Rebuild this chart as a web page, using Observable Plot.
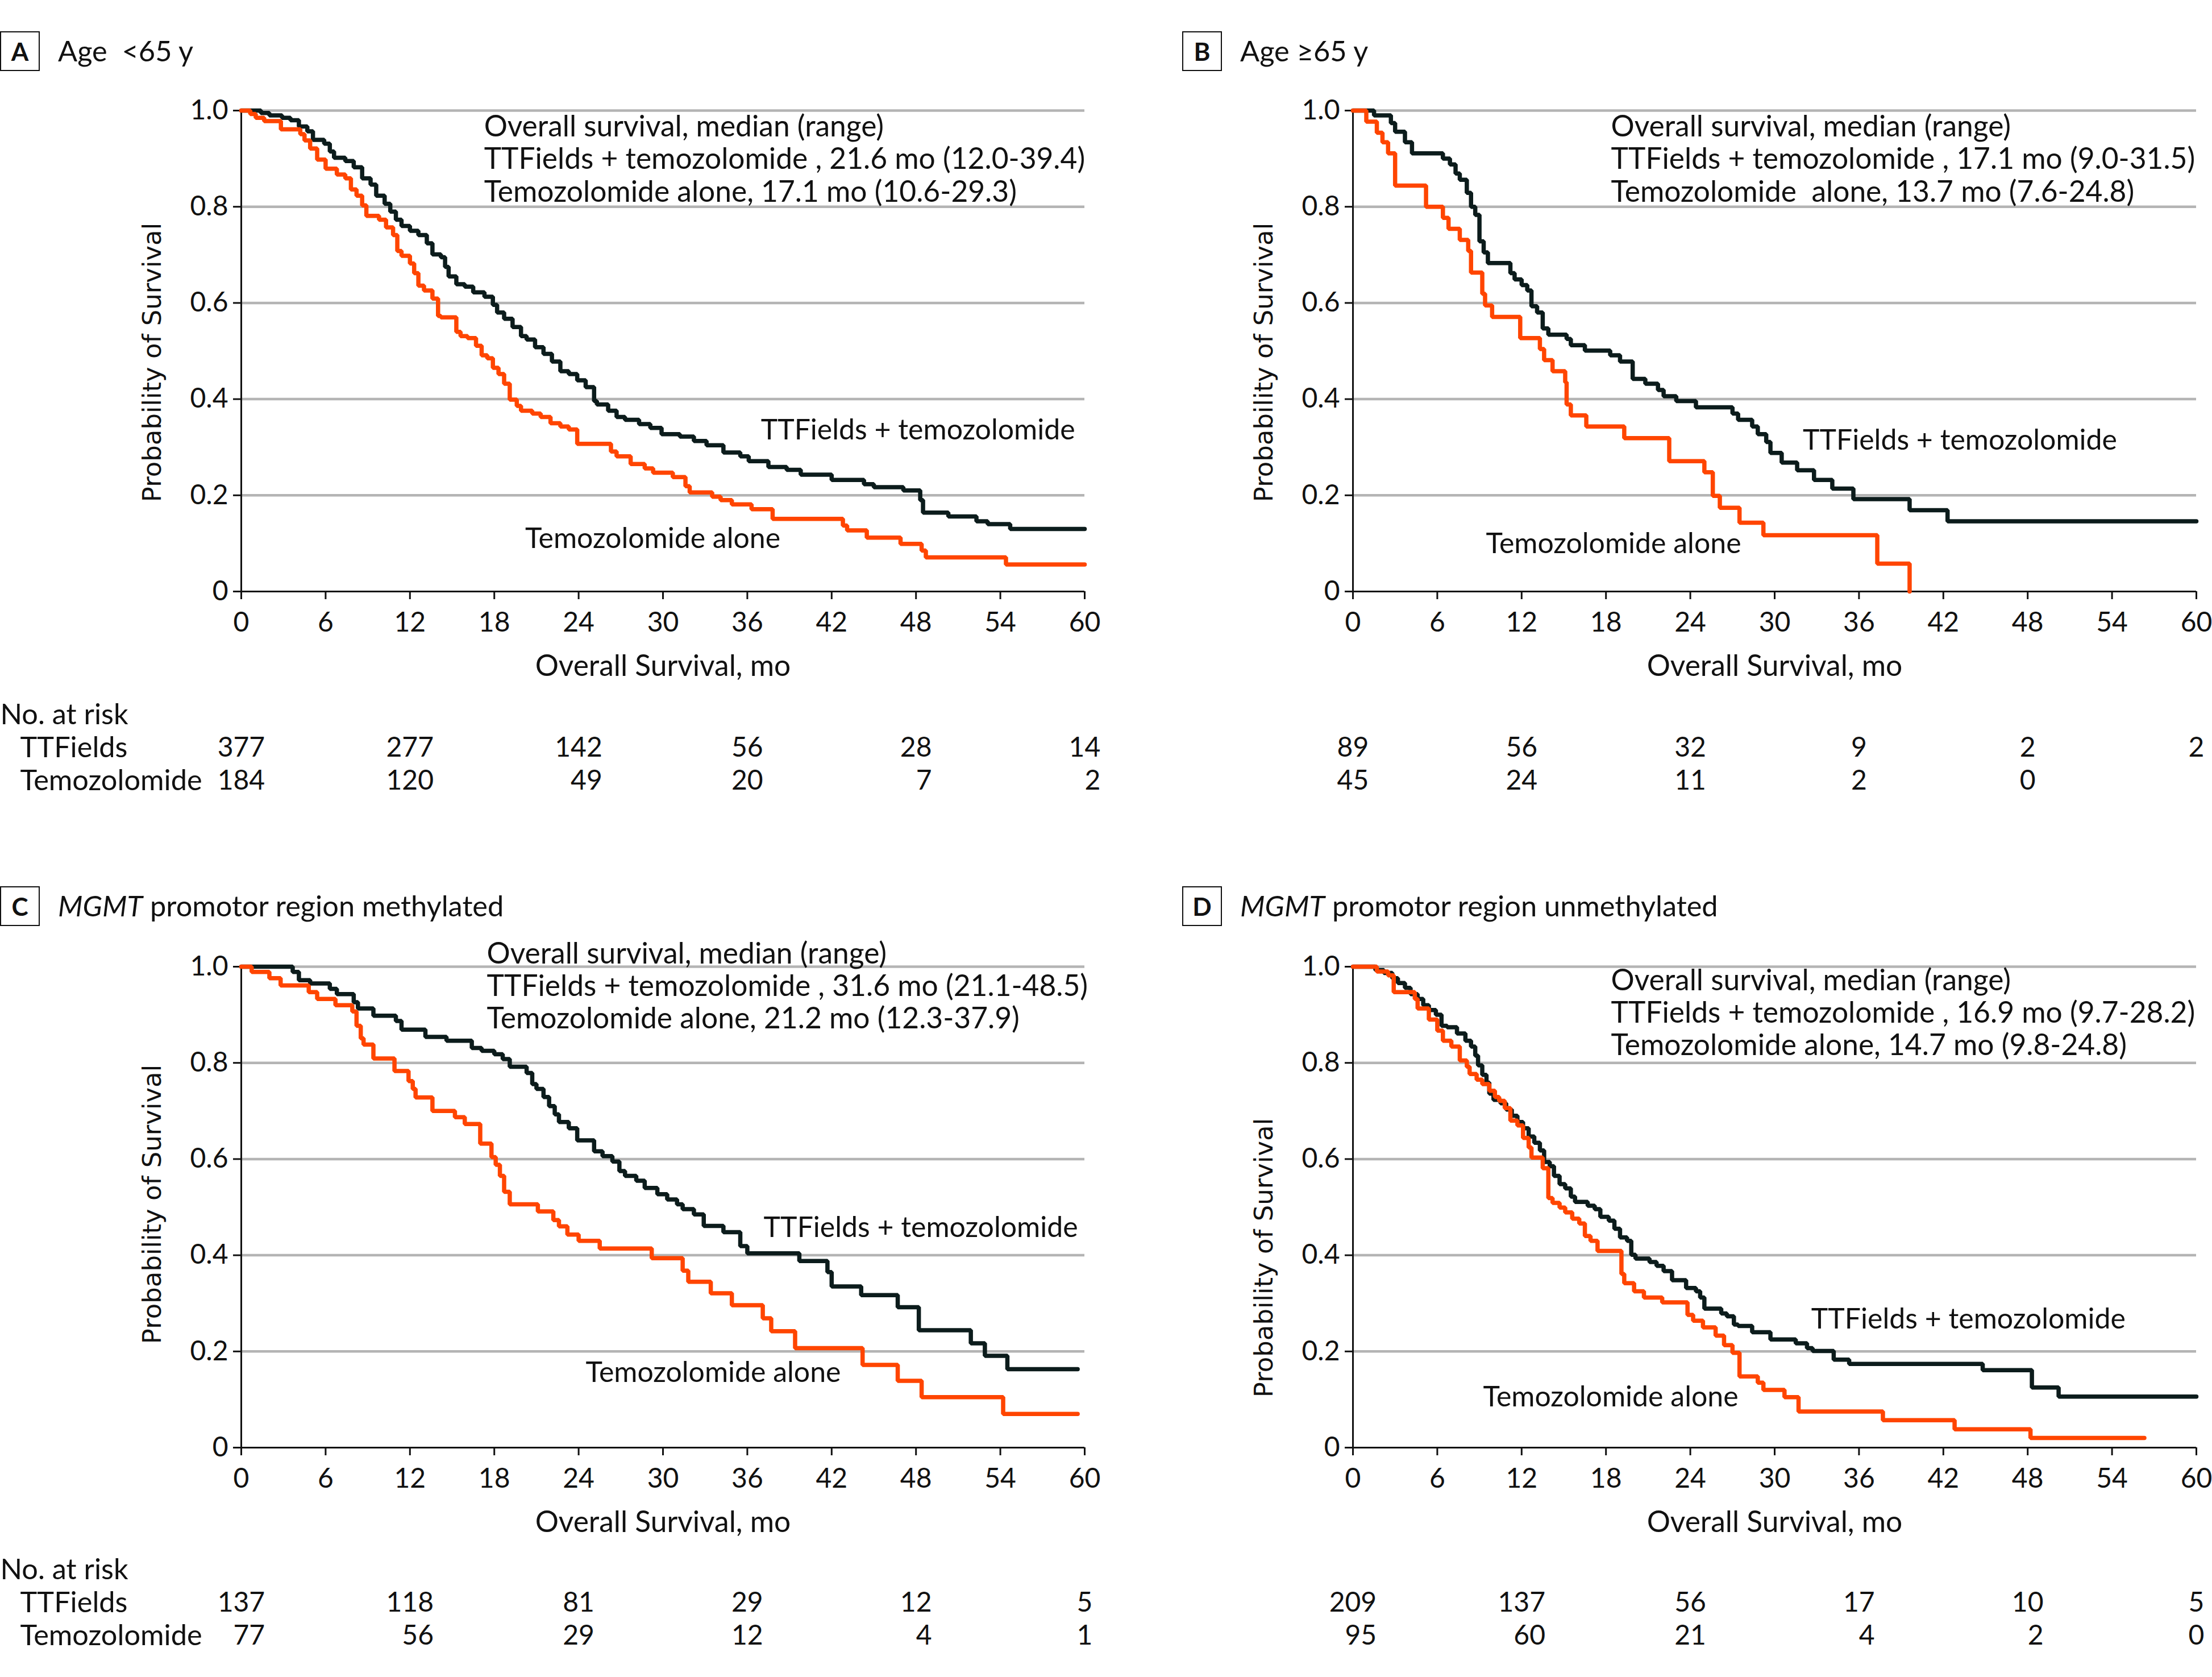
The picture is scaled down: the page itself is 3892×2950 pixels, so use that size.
<!DOCTYPE html>
<html><head><meta charset="utf-8">
<script src="https://cdn.jsdelivr.net/npm/d3@7"></script>
<script src="https://cdn.jsdelivr.net/npm/@observablehq/plot@0.6"></script>
<style>
html,body{margin:0;padding:0;background:#fff;}
#root{position:relative;width:3892px;height:2950px;background:#fff;font-family:Lato,"Open Sans",sans-serif;color:#111;overflow:hidden;}
.box{position:absolute;width:70px;height:70px;border:2.5px solid #111;box-sizing:border-box;display:flex;align-items:center;justify-content:center;font-weight:700;font-size:44px;}
.title{position:absolute;font-size:50.5px;white-space:pre;line-height:1;transform:translateY(-50%);}
svg{overflow:visible;}
</style></head><body><div id="root"></div>
<script>
// ---------- DATA ----------
const xTicks = [0, 6, 12, 18, 24, 30, 36, 42, 48, 54, 60];
const yTicks = [0, 0.2, 0.4, 0.6, 0.8, 1.0];
const riskTimes = [0, 12, 24, 36, 48, 60];
const groups = ["TTFields + temozolomide", "Temozolomide alone"];

// Panel A: Age <65 y
const aTTFt = [0,1.4,2.0,2.9,3.5,4.1,4.7,5.1,5.9,6.3,6.6,7.4,8.0,8.6,9.2,9.6,10.2,10.6,11.0,11.4,12.0,12.6,13.2,13.6,14.2,14.5,14.75,15.3,15.9,16.5,17.3,17.9,18.2,18.7,19.3,19.9,20.3,20.9,21.5,22.1,22.7,23.3,23.9,24.5,25.1,25.3,26.1,26.7,27.3,28.3,29.1,29.9,31.2,32.2,33.1,34.3,35.5,36.1,37.5,38.8,39.8,42.0,44.3,45.0,47.1,48.3,48.5,50.3,52.3,53.1,54.7,60];
const aTTFs = [1,.995,.990,.985,.980,.967,.957,.939,.931,.915,.902,.895,.882,.859,.846,.823,.806,.790,.773,.760,.750,.741,.724,.701,.695,.675,.655,.639,.634,.622,.613,.596,.580,.567,.550,.531,.524,.508,.494,.478,.458,.452,.439,.425,.396,.389,.376,.363,.357,.348,.340,.327,.322,.313,.304,.289,.281,.271,.259,.253,.243,.232,.223,.217,.210,.190,.164,.156,.146,.140,.130,.130];
const aTMZt = [0,0.64,1.03,1.63,2.82,4.2,4.5,4.9,5.4,6.0,6.8,7.4,7.8,8.2,8.6,8.9,9.8,10.3,10.8,11.1,11.4,12.0,12.3,12.6,13.0,13.6,14.0,14.2,15.3,15.6,16.1,16.7,17.1,17.5,17.9,18.3,18.7,19.1,19.6,19.9,20.7,21.3,22.0,22.7,23.3,23.9,26.3,26.7,27.7,28.7,29.3,30.7,31.6,31.9,33.5,34.1,34.9,36.3,37.8,42.8,43.1,44.5,46.9,48.4,48.7,54.4,60];
const aTMZs = [1,.993,.985,.978,.961,.951,.938,.921,.898,.879,.867,.859,.836,.823,.803,.781,.773,.757,.741,.708,.698,.682,.662,.636,.626,.609,.573,.570,.540,.531,.527,.511,.491,.485,.465,.452,.432,.399,.386,.376,.370,.363,.350,.343,.337,.307,.291,.281,.265,.256,.247,.238,.219,.206,.197,.190,.181,.171,.151,.137,.127,.112,.099,.085,.071,.056,.056];
const aRiskTTF = [377, 277, 142, 56, 28, 14];
const aRiskTMZ = [184, 120, 49, 20, 7, 2];

// Panel B: Age >=65 y
const bTTFt = [0,1.5,2.7,3.0,3.7,4.2,6.4,6.9,7.3,7.6,8.1,8.4,8.7,9.0,9.3,9.6,11.2,11.5,12.0,12.4,12.7,13.1,13.5,13.9,15.2,15.5,16.5,18.3,19.0,19.9,20.8,21.7,22.1,23.0,24.4,27.0,27.4,28.4,28.8,29.4,29.7,30.5,31.6,32.8,34.1,35.6,39.6,42.3,60];
const bTTFs = [1,.990,.974,.956,.934,.911,.900,.888,.869,.856,.829,.800,.783,.728,.705,.683,.662,.649,.637,.626,.593,.580,.547,.534,.525,.512,.501,.491,.478,.442,.432,.419,.406,.396,.383,.370,.357,.343,.327,.311,.288,.268,.252,.232,.214,.192,.169,.146,.146];
const bTMZt = [0,0.95,1.7,2.1,2.5,3.0,5.2,6.4,6.8,7.6,8.2,8.4,9.2,9.4,9.9,11.9,13.3,13.6,14.2,15.1,15.2,15.5,16.6,19.3,22.5,25.0,25.6,26.1,27.5,29.2,37.3,39.6];
const bTMZs = [1,.977,.954,.934,.911,.844,.800,.777,.754,.731,.708,.663,.619,.595,.571,.527,.504,.481,.458,.435,.389,.366,.343,.319,.271,.248,.199,.174,.143,.117,.058,0];
const bRiskTTF = [89, 56, 32, 9, 2, 2];
const bRiskTMZ = [45, 24, 11, 2, 0];

// Panel C: MGMT methylated
const cTTFt = [0,3.66,4.1,4.9,6.3,6.8,8.0,8.3,9.4,11.0,11.4,13.1,14.6,16.4,17.1,18.0,18.6,19.1,20.3,20.7,21.0,21.5,21.9,22.3,22.6,23.3,23.9,25.1,25.7,26.4,26.9,27.3,28.1,28.7,29.6,30.3,31.0,31.4,32.2,32.9,34.3,35.5,36.0,39.7,41.7,42.0,44.1,46.7,48.2,51.9,52.9,54.5,59.5];
const cTTFs = [1,.989,.972,.965,.954,.943,.926,.913,.898,.887,.869,.854,.846,.831,.825,.818,.808,.792,.779,.756,.746,.729,.710,.693,.677,.664,.639,.616,.606,.595,.575,.565,.555,.540,.527,.516,.506,.496,.485,.461,.448,.419,.404,.388,.365,.335,.317,.292,.244,.217,.191,.163,.163];
const cTMZt = [0,0.74,2.0,2.8,4.8,5.4,6.7,7.9,8.2,8.5,8.7,9.4,10.9,11.9,12.2,12.4,13.6,15.2,15.9,17.0,17.8,18.1,18.4,18.7,19.1,21.1,22.2,22.6,23.2,24.0,25.5,29.2,31.4,31.8,33.4,34.9,37.1,37.7,39.4,44.2,46.7,48.4,54.2,59.5];
const cTMZs = [1,.989,.976,.961,.947,.933,.920,.907,.877,.851,.838,.809,.783,.762,.746,.728,.700,.687,.673,.632,.604,.588,.565,.532,.506,.491,.473,.460,.443,.430,.414,.394,.368,.345,.321,.296,.269,.242,.207,.172,.139,.105,.070,.070];
const cRiskTTF = [137, 118, 81, 29, 12, 5];
const cRiskTMZ = [77, 56, 29, 12, 4, 1];

// Panel D: MGMT unmethylated
const dTTFt = [0,1.6,2.2,2.8,3.2,3.7,4.1,4.6,5.0,5.4,5.9,6.3,6.7,7.4,8.0,8.4,8.7,8.9,9.2,9.5,9.7,10.0,10.5,10.9,11.3,11.7,12.1,12.5,12.9,13.3,13.6,14.0,14.3,14.7,15.1,15.5,15.8,16.7,17.2,17.6,18.2,18.6,19.0,19.5,19.8,20.1,21.1,21.6,22.1,22.7,23.7,24.4,24.7,25.0,26.2,26.6,27.1,27.4,28.4,29.7,31.5,32.3,32.7,34.2,35.3,44.8,48.3,50.2,60];
const dTTFs = [1,.993,.987,.976,.966,.956,.943,.933,.920,.910,.900,.877,.874,.861,.846,.834,.815,.795,.775,.759,.736,.723,.716,.703,.690,.677,.664,.647,.634,.618,.594,.585,.565,.548,.539,.522,.511,.503,.496,.480,.472,.455,.437,.430,.401,.393,.386,.378,.367,.348,.332,.325,.312,.289,.279,.273,.256,.253,.240,.225,.217,.207,.201,.183,.174,.161,.125,.106,.106];
const dTMZt = [0,1.7,2.5,2.9,4.4,4.6,5.4,6.0,6.4,7.0,7.6,8.1,8.3,8.8,9.2,9.7,10.1,10.4,10.8,11.2,11.7,12.1,12.5,12.7,13.5,13.9,14.2,14.7,15.1,15.6,16.1,16.5,16.9,17.4,19.1,19.3,20.0,20.7,22.0,23.8,24.2,24.9,25.8,26.4,27.0,27.5,28.8,29.2,30.7,31.7,37.7,42.8,48.2,56.3];
const dTMZs = [1,.990,.982,.947,.933,.913,.890,.867,.846,.834,.805,.792,.777,.765,.756,.742,.729,.721,.706,.680,.670,.644,.624,.603,.581,.519,.509,.499,.489,.476,.466,.440,.430,.409,.361,.342,.325,.312,.302,.276,.264,.250,.233,.213,.197,.148,.135,.120,.105,.075,.057,.038,.020,.020];
const dRiskTTF = [209, 137, 56, 17, 10, 5];
const dRiskTMZ = [95, 60, 21, 4, 2, 0];

// ---------- LAYOUT ----------
const FONT = "Lato, 'Open Sans', sans-serif";
const INK = "#111";
const COLORS = ["#0c1c1c", "#ff4500"];
const W = 1946, H = 1050, MT = 44, MB = 160;
const root = document.getElementById("root");

const panels = [
  {id:"A", title:"Age  <65 y", left:0, top:150, boxL:0, boxT:55, ml:424, mr:38, tableTop:1216, rowLabels:true, ylabDy:20,
   ttf:[aTTFt,aTTFs], tmz:[aTMZt,aTMZs], risk:[aRiskTTF,aRiskTMZ],
   med:["Overall survival, median (range)","TTFields + temozolomide , 21.6 mo (12.0-39.4)","Temozolomide alone, 17.1 mo (10.6-29.3)"],
   medX:17.27, medY:[0.966,0.898,0.830], lab:[[36.96,0.335],[20.2,0.109]]},
  {id:"B", title:"Age ≥65 y", left:1946, top:150, boxL:2080, boxT:55, ml:434, mr:28, tableTop:1216, rowLabels:false, ylabDy:20,
   ttf:[bTTFt,bTTFs], tmz:[bTMZt,bTMZs], risk:[bRiskTTF,bRiskTMZ],
   med:["Overall survival, median (range)","TTFields + temozolomide , 17.1 mo (9.0-31.5)","Temozolomide  alone, 13.7 mo (7.6-24.8)"],
   medX:18.36, medY:[0.966,0.898,0.830], lab:[[32.0,0.314],[9.46,0.099]]},
  {id:"C", italic:"MGMT", title:" promotor region methylated", left:0, top:1656, boxL:0, boxT:1559, ml:424, mr:38, tableTop:2720, rowLabels:true, ylabDy:-5,
   ttf:[cTTFt,cTTFs], tmz:[cTMZt,cTMZs], risk:[cRiskTTF,cRiskTMZ],
   med:["Overall survival, median (range)","TTFields + temozolomide , 31.6 mo (21.1-48.5)","Temozolomide alone, 21.2 mo (12.3-37.9)"],
   medX:17.47, medY:[1.026,0.959,0.891], lab:[[37.16,0.457],[24.5,0.155]]},
  {id:"D", italic:"MGMT", title:" promotor region unmethylated", left:1946, top:1656, boxL:2080, boxT:1559, ml:434, mr:28, tableTop:2720, rowLabels:false, ylabDy:89,
   ttf:[dTTFt,dTTFs], tmz:[dTMZt,dTMZs], risk:[dRiskTTF,dRiskTMZ],
   med:["Overall survival, median (range)","TTFields + temozolomide , 16.9 mo (9.7-28.2)","Temozolomide alone, 14.7 mo (9.8-24.8)"],
   medX:18.36, medY:[0.970,0.903,0.836], lab:[[32.6,0.266],[9.26,0.105]]}
];

function place(el, l, t) { el.style.position = "absolute"; el.style.left = l + "px"; el.style.top = t + "px"; root.appendChild(el); }

const styleBase = {fontFamily: FONT, fontSize: "48px", color: INK, background: "transparent", overflow: "visible", whiteSpace: "pre"};

for (const p of panels) {
  // header
  const box = document.createElement("div"); box.className = "box"; box.textContent = p.id;
  place(box, p.boxL, p.boxT);
  const ttl = document.createElement("div"); ttl.className = "title";
  if (p.italic) { const i = document.createElement("i"); i.textContent = p.italic; ttl.appendChild(i); }
  ttl.appendChild(document.createTextNode(p.title));
  place(ttl, p.boxL + 102, p.boxT + 34);

  const rows = [];
  p.ttf[0].forEach((t, i) => rows.push({t, s: p.ttf[1][i], g: groups[0]}));
  p.tmz[0].forEach((t, i) => rows.push({t, s: p.tmz[1][i], g: groups[1]}));

  const main = Plot.plot({
    width: W, height: H, marginLeft: p.ml, marginRight: p.mr, marginTop: MT, marginBottom: MB,
    style: styleBase,
    x: {domain: [0, 60]},
    y: {domain: [0, 1]},
    color: {domain: groups, range: COLORS},
    marks: [
      Plot.ruleY(yTicks.filter(d => d > 0), {stroke: "#b4b4b4", strokeWidth: 4.5}),
      Plot.axisX({ticks: xTicks, tickSize: 14, tickPadding: 22, strokeWidth: 3, label: null, fontSize: 48}),
      Plot.axisY({ticks: yTicks, tickSize: 14, tickPadding: 9, strokeWidth: 3, label: null, fontSize: 48,
                  tickFormat: d => d === 0 ? "0" : d.toFixed(1)}),
      Plot.ruleX([0], {y1: 0, y2: 1, stroke: INK, strokeWidth: 3}),
      Plot.ruleY([0], {x1: 0, x2: 60, stroke: INK, strokeWidth: 3}),
      Plot.line(rows.filter(d => d.g === groups[0]), {x: "t", y: "s", stroke: "g", curve: "step-after", strokeWidth: 7.5, strokeLinejoin: "miter"}),
      Plot.line(rows.filter(d => d.g === groups[1]), {x: "t", y: "s", stroke: "g", curve: "step-after", strokeWidth: 7.5, strokeLinejoin: "miter"}),
      Plot.text(p.med, {x: () => p.medX, y: (d, i) => p.medY[i], text: d => d, textAnchor: "start", fontSize: 51.5, fill: INK}),
      Plot.text(groups, {x: (d, i) => p.lab[i][0], y: (d, i) => p.lab[i][1], text: d => d, textAnchor: "start", fontSize: 50, fill: INK}),
      Plot.text(["Overall Survival, mo"], {frameAnchor: "bottom", dy: 148, text: d => d, fontSize: 51.5, fill: INK}),
      Plot.text(["Probability of Survival"], {frameAnchor: "left", dx: -156, dy: p.ylabDy, rotate: -90, textAnchor: "middle", text: d => d,
                 fontFamily: "'DejaVu Sans', sans-serif", fontSize: 45, fill: INK})
    ]
  });
  place(main, p.left, p.top);

  // number at risk table
  const pxPerMonth = (W - p.ml - p.mr) / 60;
  const digitW = 27.8;
  const risk = [];
  riskTimes.forEach((t, i) => {
    const top = String(p.risk[0][i]);
    const off = (top.length * digitW / 2) / pxPerMonth;
    risk.push({t, off, row: "TTFields", n: top});
    if (p.risk[1][i] !== undefined) risk.push({t, off, row: "Temozolomide", n: String(p.risk[1][i])});
  });
  const tblMarks = [
    Plot.text(risk, {x: d => d.t + d.off, y: "row", text: "n", textAnchor: "end", fill: INK})
  ];
  if (p.rowLabels) {
    tblMarks.push(Plot.text(["No. at risk"], {frameAnchor: "left", y: () => "head", text: d => d, textAnchor: "start", dx: -p.ml, fontSize: 50.5, fill: INK}));
    tblMarks.push(Plot.text(["TTFields", "Temozolomide"], {frameAnchor: "left", y: d => d, text: d => d, textAnchor: "start", dx: -p.ml + 35, fontSize: 50.5, fill: INK}));
  }
  const table = Plot.plot({
    width: W, height: 200, marginLeft: p.ml, marginRight: p.mr, marginTop: 40, marginBottom: 43,
    style: styleBase,
    x: {domain: [0, 60], axis: null},
    y: {type: "point", domain: ["head", "TTFields", "Temozolomide"], padding: 0, axis: null},
    marks: tblMarks
  });
  place(table, p.left, p.tableTop);
}
</script></body></html>
